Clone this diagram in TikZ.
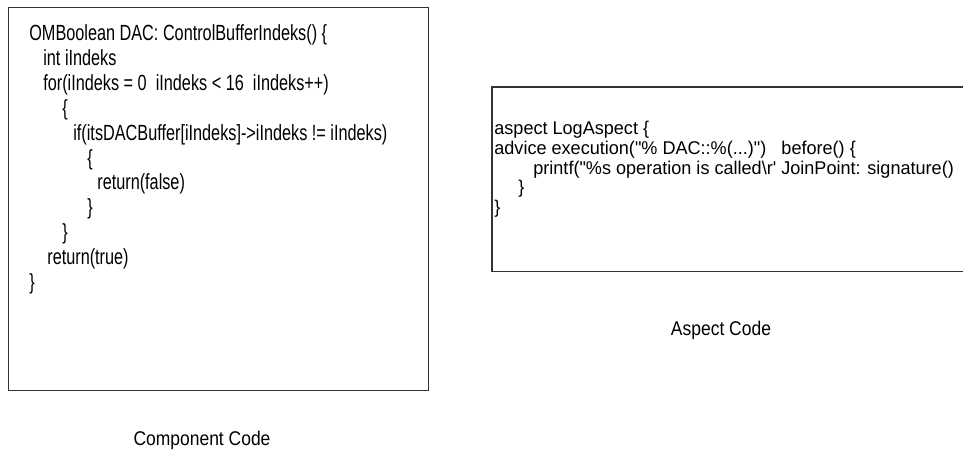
\documentclass[tikz,border=0pt]{standalone}
\usepackage{fontspec}
\newfontfamily\codefont[FakeStretch=0.74]{Liberation Sans}
\newfontfamily\aspfont[FakeStretch=0.98]{Liberation Sans}
\newfontfamily\labelfont[FakeStretch=0.88]{Liberation Sans}

\begin{document}
\begin{tikzpicture}[x=0.02cm,y=-0.02cm,
	frame/.style={draw=black!80,line width=0.8pt,inner sep=0pt,anchor=north west},
	code/.style={anchor=north west,inner sep=0pt,align=left},
	caption/.style={font=\labelfont\fontsize{11.3}{13}\selectfont}]
	
	\useasboundingbox (0,0) rectangle (963,454);
	
	% component side
	\node[frame,minimum width=8.4cm,minimum height=7.66cm] (compbox) at (8,7) {};
	\node[code,font=\codefont\fontsize{12.5}{14.2}\selectfont] (compcode) at (29,24)
	{OMBoolean DAC: ControlBufferIndeks() \{\\
		\hspace*{0.28cm}int iIndeks\\
		\hspace*{0.28cm}for(iIndeks = 0~~iIndeks < 16~~iIndeks++)\\
		\hspace*{0.66cm}\{\\
		\hspace*{0.88cm}if(itsDACBuffer[iIndeks]->iIndeks != iIndeks)\\
		\hspace*{1.16cm}\{\\
		\hspace*{1.36cm}return(false)\\
		\hspace*{1.16cm}\}\\
		\hspace*{0.66cm}\}\\
		\hspace*{0.36cm}return(true)\\
		\}};
	\node[caption] (complabel) at (202,440) {Component Code};
	
	% aspect side
	\node[inner sep=0pt,anchor=north west,minimum width=9.42cm,minimum height=3.68cm] (aspbox) at (492,87) {};
	\draw[draw=black!80,line width=0.8pt] (aspbox.north east) -- (aspbox.north west)
		-- (aspbox.south west) -- (aspbox.south east);
	\node[code,font=\aspfont\fontsize{10.5}{11.2}\selectfont] (aspcode) at (494,121)
	{aspect LogAspect \{\\
		advice execution("\% DAC::\%(...)")~~~before()~\{\\
		\hspace*{0.78cm}printf("\%s operation is called\textbackslash r'~JoinPoint: signature()\\
		\hspace*{0.48cm}\}\\
		\}};
	\node[caption] (asplabel) at (721,330) {Aspect Code};
\end{tikzpicture}
\end{document}
